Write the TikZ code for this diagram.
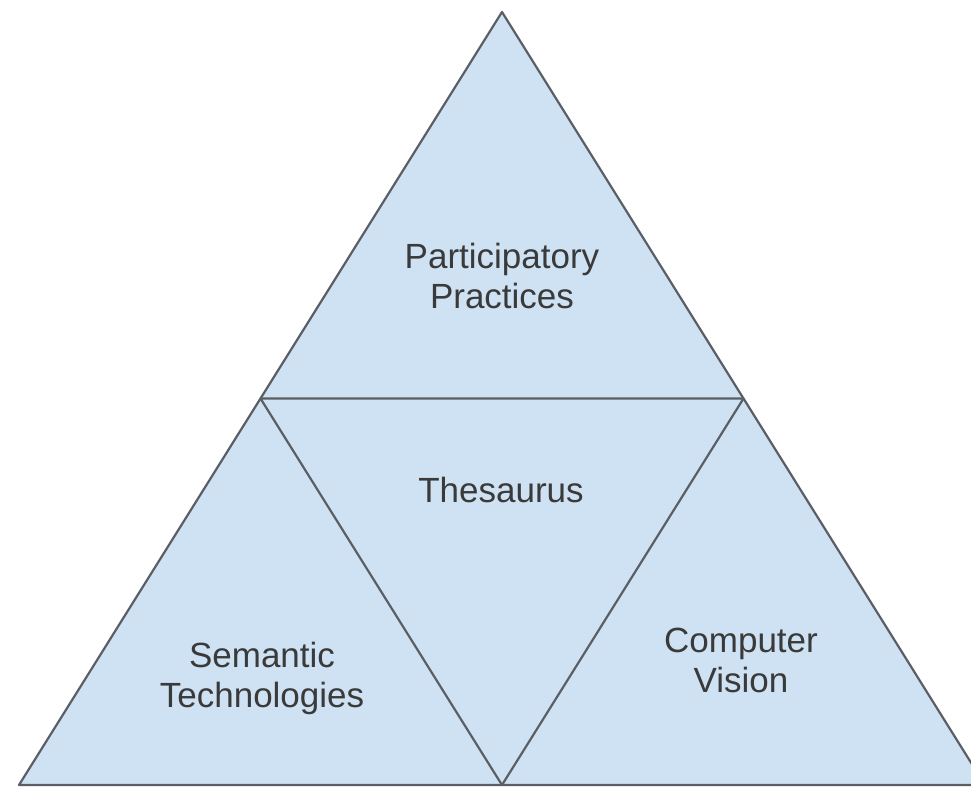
\documentclass[tikz,border=0pt]{standalone}
\usepackage{fontspec}
\setmainfont{Liberation Sans}
\usetikzlibrary{calc}

\definecolor{panefill}{HTML}{CFE2F3}
\definecolor{paneline}{HTML}{5A5F66}
\definecolor{panetext}{HTML}{3A3A3A}

\begin{document}
\begin{tikzpicture}[x=0.5pt,y=-0.5pt,
  pane/.style={fill=panefill, draw=paneline, line width=1.1pt, line join=round},
  lbl/.style={text=panetext, font=\fontsize{17.5}{20}\selectfont, align=center}]
  \clip (0,0) rectangle (971,789);
  \fill[white] (0,0) rectangle (971,789);
  % corners of the big triangle
  \coordinate (top) at (502,12);
  \coordinate (bl) at (19,785);
  \coordinate (br) at (985,785);
  \coordinate (ml) at ($(top)!0.5!(bl)$);
  \coordinate (mr) at ($(top)!0.5!(br)$);
  \coordinate (mb) at ($(bl)!0.5!(br)$);
  \draw[pane] (top) -- (bl) -- (br) -- cycle;
  \draw[pane] (ml) -- (mr) -- (mb) -- cycle;
  % labels
  \node[lbl] (part) at (502,276) {Participatory\\Practices};
  \node[lbl] (thes) at (501,490) {Thesaurus};
  \node[lbl] (sem) at (262,678) {Semantic\\Technologies};
  \node[lbl] (cv) at (741,660) {Computer\\Vision};
\end{tikzpicture}
\end{document}
